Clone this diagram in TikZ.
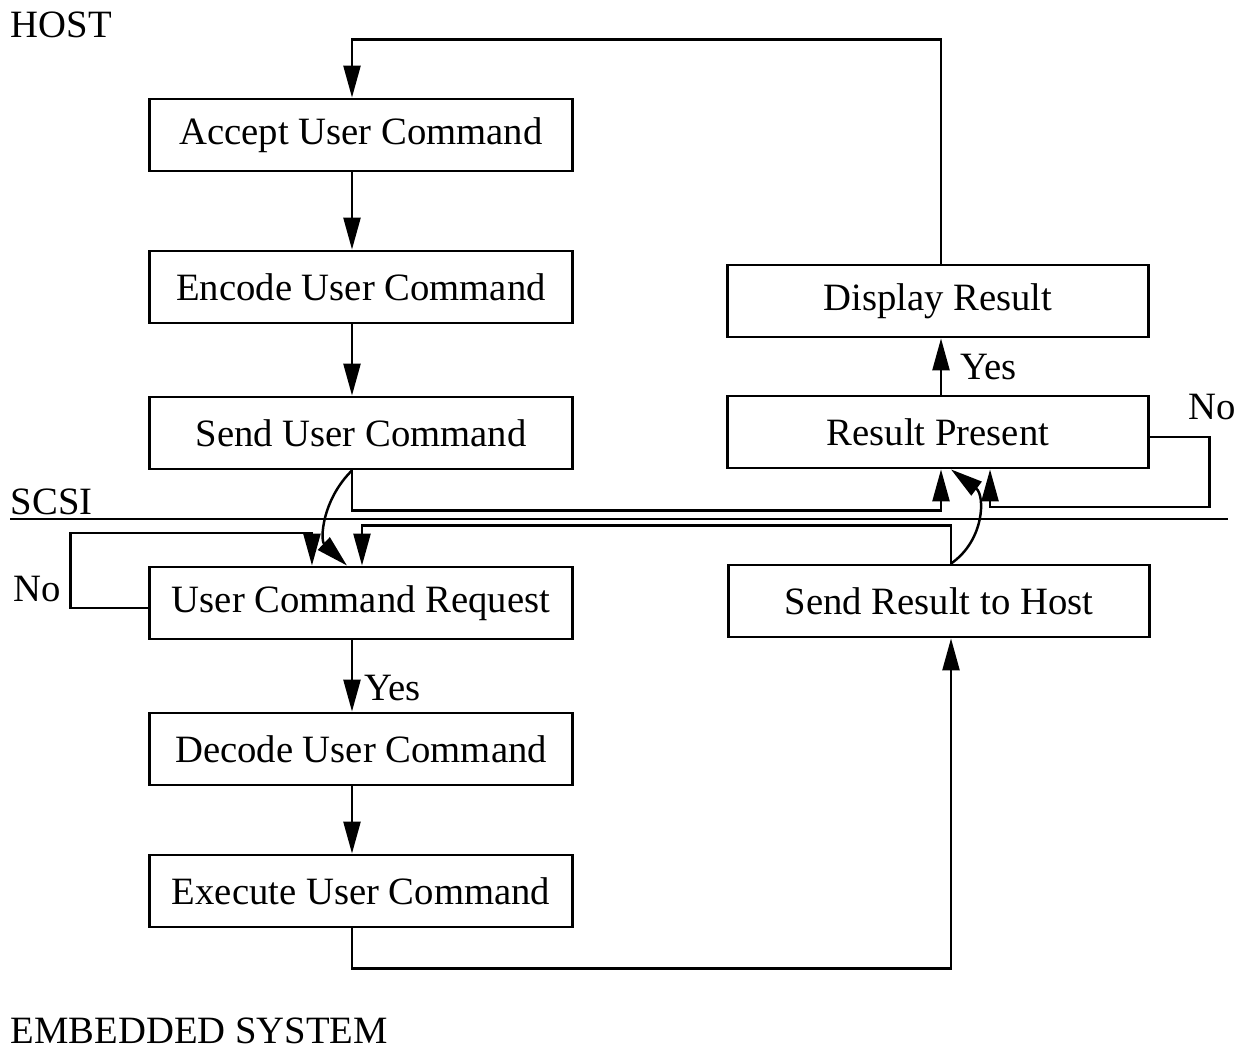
\documentclass[tikz,border=0pt]{standalone}
\usepackage{fontspec}
\setmainfont{Liberation Serif}
\usetikzlibrary{arrows.meta}
\begin{document}
\begin{tikzpicture}[x=0.01cm,y=-0.01cm,
    font=\fontsize{11}{13}\selectfont,
    box/.style={draw,line width=0.8pt,minimum width=4.22cm,minimum height=0.72cm,inner sep=0pt},
    arr/.style={line width=0.7pt,-{Triangle[length=0.32cm,width=0.17cm]}},
    lbl/.style={inner sep=0pt}]
                \useasboundingbox (0,0) rectangle (1242,1055);

                % host side
                \node[box] (acc) at (361,135) {Accept User Command};
                \node[box] (enc) at (361,287) {Encode User Command};
                \node[box] (snd) at (361,433) {Send User Command};
                \node[box,minimum width=4.2cm] (disp) at (938,301) {Display Result};
                \node[box,minimum width=4.2cm] (pres) at (938,432) {Result Present};

                % embedded side
                \node[box] (req) at (361,603) {User Command Request};
                \node[box] (dec) at (361,749) {Decode User Command};
                \node[box] (exe) at (361,891) {Execute User Command};
                \node[box,minimum width=4.2cm] (res) at (939,601) {Send Result to Host};

                \node[lbl,anchor=west] (host) at (10,25) {HOST};
                \node[lbl,anchor=west] (scsi) at (10,502) {SCSI};
                \node[lbl,anchor=west] (emb) at (10,1031) {EMBEDDED SYSTEM};
                \node[lbl] (nol) at (37,589) {No};
                \node[lbl] (nor) at (1212,407) {No};
                \node[lbl,anchor=west] (yesl) at (364,688) {Yes};
                \node[lbl,anchor=west] (yesr) at (960,367) {Yes};

                \coordinate (busl) at (10,519);
                \coordinate (busr) at (1228,519);
                \draw[line width=0.8pt] (busl) -- (busr);

                \draw[arr] ([xshift=-0.09cm]acc.south) -- ([xshift=-0.09cm]enc.north);
                \draw[arr] ([xshift=-0.09cm]enc.south) -- ([xshift=-0.09cm]snd.north);
                \draw[arr] ([xshift=-0.09cm]snd.south) .. controls (322,500) and (320,540) .. ([xshift=-0.14cm]req.north);
                \draw[arr] ([xshift=-0.09cm]snd.south) -- ++(0,40) -| ([xshift=0.03cm]pres.south);
                \draw[arr] ([yshift=-0.05cm]req.west) -- ++(-78,0) -- ++(0,-75) -| ([xshift=-0.49cm]req.north);
                \draw[arr] ([xshift=-0.09cm]req.south) -- ([xshift=-0.09cm]dec.north);
                \draw[arr] ([xshift=-0.09cm]dec.south) -- ([xshift=-0.09cm]exe.north);
                \draw[arr] ([xshift=-0.09cm]exe.south) -- ++(0,40) -| ([xshift=0.12cm]res.south);
                \draw[arr] ([xshift=0.12cm]res.north) -- ++(0,-38) -| ([xshift=0.01cm]req.north);
                \draw[arr] ([xshift=0.12cm]res.north) .. controls (985,540) and (985,495) .. ([xshift=0.13cm]pres.south);
                \draw[arr] ([yshift=-0.05cm]pres.east) -- ++(60,0) -- ++(0,70) -| ([xshift=0.52cm]pres.south);
                \draw[arr] ([xshift=0.03cm]pres.north) -- ([xshift=0.03cm]disp.south);
                \draw[arr] ([xshift=0.03cm]disp.north) -- ++(0,-224) -| ([xshift=-0.09cm]acc.north);
            \end{tikzpicture}
\end{document}
